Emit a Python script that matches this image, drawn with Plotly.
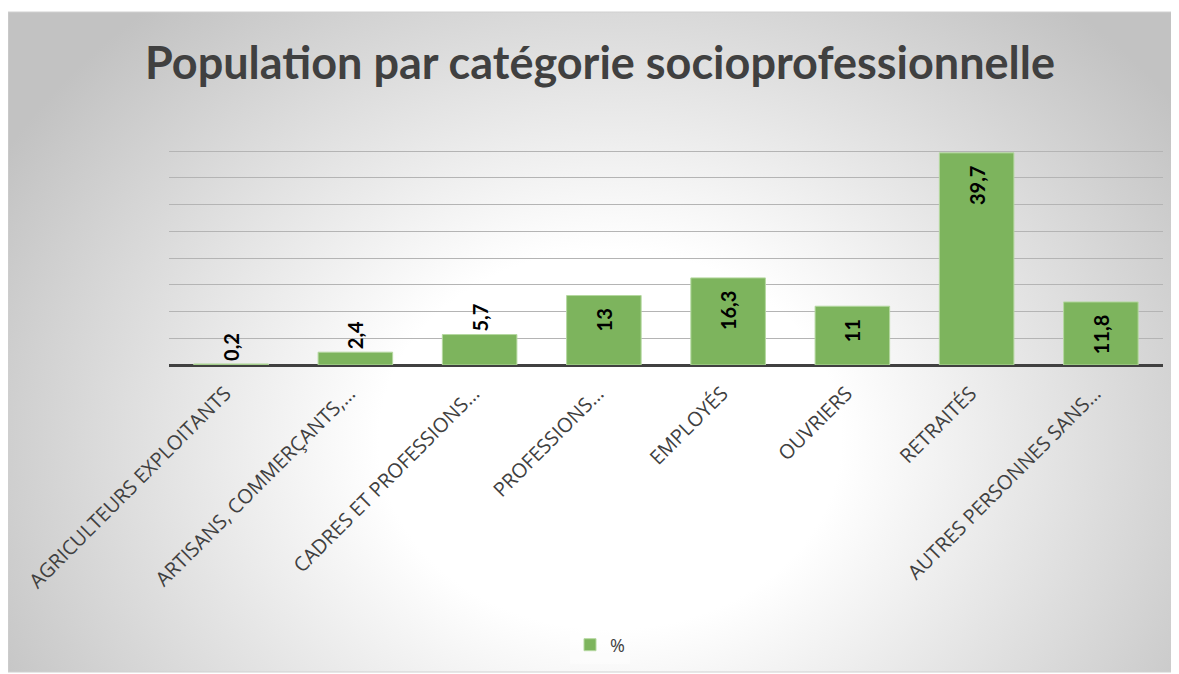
import base64
import plotly.graph_objects as go

categories = [
    "AGRICULTEURS EXPLOITANTS",
    "ARTISANS, COMMERÇANTS,…",
    "CADRES ET PROFESSIONS…",
    "PROFESSIONS…",
    "EMPLOYÉS",
    "OUVRIERS",
    "RETRAITÉS",
    "AUTRES PERSONNES SANS…",
]
values = [0.2, 2.4, 5.7, 13, 16.3, 11, 39.7, 11.8]
series_name = "%"
title_text = "Population par catégorie socioprofessionnelle"

PAD = "\u00a0\u00a0"
labels = []
positions = []
for v in values:
    s = f"{v:g}".replace(".", ",")
    if v < 6:
        labels.append(s)
        positions.append("outside")
    else:
        labels.append(s + PAD)
        positions.append("inside")

OFF = 8  # page body margin
W, H = 1179 - OFF, 674 - OFF
L = 169 - OFF
T = 124 - OFF
R = W - (1163 - OFF)
B = H - (365 - OFF)
pw = W - L - R
ph = H - T - B

# background radial gradient (Excel-like), box in absolute page coords
bx0, by0, bx1, by1 = 8, 12, 1172, 672
bw, bh = bx1 - bx0, by1 - by0
cx, cy = 610 - bx0, 440 - by0
svg = f'''<svg xmlns="http://www.w3.org/2000/svg" width="{bw}" height="{bh}" viewBox="0 0 {bw} {bh}" preserveAspectRatio="none">
<defs><radialGradient id="g" gradientUnits="userSpaceOnUse" cx="{cx}" cy="{cy}" r="700"
gradientTransform="translate({cx} {cy}) scale(1 0.82) translate({-cx} {-cy})">
<stop offset="0" stop-color="#ffffff"/><stop offset="0.33" stop-color="#ffffff"/>
<stop offset="1" stop-color="#c2c2c2"/></radialGradient></defs>
<rect x="0" y="0" width="{bw}" height="{bh}" fill="url(#g)"/></svg>'''
src = "data:image/svg+xml;base64," + base64.b64encode(svg.encode()).decode()

def px2x(px):
    return (px - OFF - L) / pw

def py2y(py):
    return (H - B - (py - OFF)) / ph

lab_font = dict(family="Lato", size=20, color="#000000", weight="bold")

fig = go.Figure()
fig.add_trace(go.Bar(
    x=categories, y=values, name=series_name,
    marker=dict(color="#7db45d", line=dict(color="#b5d8a0", width=1)),
    text=labels, textposition=positions, insidetextanchor="end",
    textangle=-90, constraintext="none", cliponaxis=False,
    textfont=lab_font, outsidetextfont=lab_font, insidetextfont=lab_font,
))

fig.update_layout(
    width=W, height=H,
    margin=dict(l=L, r=R, t=T, b=B, autoexpand=False),
    paper_bgcolor="#ffffff",
    plot_bgcolor="rgba(0,0,0,0)",
    bargap=0.4,
    title=dict(text=title_text, x=(600 - OFF) / W, xref="container", xanchor="center",
               y=1 - (63 - OFF) / H, yref="container", yanchor="middle",
               font=dict(family="Lato", size=45, color="#404040", weight="bold")),
    xaxis=dict(tickangle=-45, showgrid=False, ticks="", showline=False,
               ticklabelstandoff=12, ticklabelshift=-6,
               tickfont=dict(family="Open Sans", size=20, color="#404040")),
    yaxis=dict(range=[0, 45.1], dtick=5, showgrid=True, gridcolor="#b4b4b4", gridwidth=1.2,
               showticklabels=False, zeroline=True, zerolinecolor="#404040", zerolinewidth=3,
               fixedrange=True),
    showlegend=True,
    legend=dict(orientation="h", x=(600 - OFF) / W, xref="container", xanchor="center",
                y=1 - (645 - OFF) / H, yref="container", yanchor="middle",
                bgcolor="rgba(255,255,255,0.35)",
                font=dict(family="Open Sans", size=18, color="#404040")),
    images=[dict(source=src, xref="paper", yref="paper",
                 x=px2x(bx0), y=py2y(by0), sizex=bw / pw, sizey=bh / ph,
                 xanchor="left", yanchor="top", sizing="stretch", layer="below")],
    shapes=[dict(type="rect", xref="paper", yref="paper",
                 x0=px2x(bx0), x1=px2x(bx1), y0=py2y(by1), y1=py2y(by0),
                 line=dict(color="#d0d0d0", width=1), layer="below")],
)

fig.write_html("out.html")
